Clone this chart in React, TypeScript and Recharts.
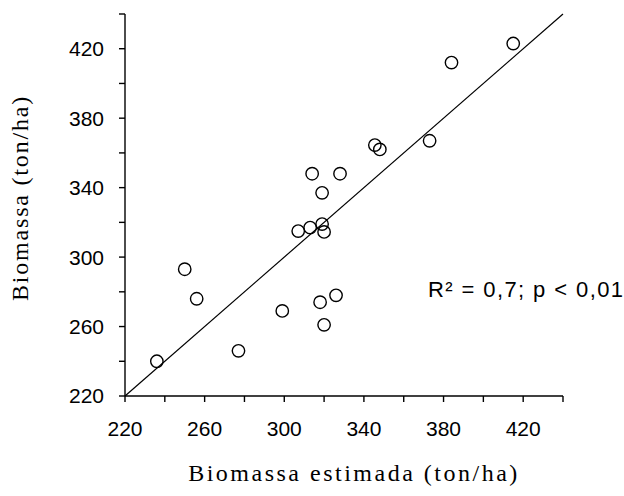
import React from "react";
import {
  ScatterChart,
  Scatter,
  XAxis,
  YAxis,
  ReferenceLine,
} from "recharts";

// Estimated vs. measured biomass (ton/ha)
const estimada = [236, 250, 256, 277, 299, 307, 313, 319, 320, 314, 328, 319, 318, 326, 320, 345.5, 348, 373, 384, 415];
const medida = [240, 293, 276, 246, 269, 315, 317, 319, 314.5, 348, 348, 337, 274, 278, 261, 364.5, 362, 367, 412, 423];

const axisTicks = [220, 240, 260, 280, 300, 320, 340, 360, 380, 400, 420, 440];
const labeledTicks = [220, 260, 300, 340, 380, 420];

const points = estimada.map((x, i) => ({ x, y: medida[i] }));

const fmt = (v: number) => (labeledTicks.includes(v) ? String(v) : "");

const sans = "'Liberation Sans', Arial, sans-serif";
const serif = "'Liberation Serif', 'Times New Roman', serif";

const Ring = (p: any) => (
  <circle cx={p.cx} cy={p.cy} r={6.2} fill="none" stroke="#000" strokeWidth={1.4} />
);

export default function App() {
  return (
    <div style={{ position: "absolute", left: 0, top: 0, background: "#fff" }}>
      <ScatterChart
        width={624}
        height={496}
        margin={{ top: 14, right: 61, bottom: 0, left: 0 }}
      >
        <XAxis
          type="number"
          dataKey="x"
          domain={[220, 440]}
          ticks={axisTicks}
          tickFormatter={fmt}
          interval={0}
          height={100}
          tickSize={6}
          tickMargin={19}
          stroke="#000"
          strokeWidth={1.4}
          tick={{ fill: "#000", fontFamily: sans, fontSize: 21 }}
        />
        <YAxis
          type="number"
          dataKey="y"
          domain={[220, 440]}
          ticks={axisTicks}
          tickFormatter={fmt}
          interval={0}
          width={125}
          tickSize={6}
          tickMargin={15}
          stroke="#000"
          strokeWidth={1.4}
          tick={{ fill: "#000", fontFamily: sans, fontSize: 21 }}
        />
        <ReferenceLine
          segment={[
            { x: 220, y: 220 },
            { x: 440, y: 440 },
          ]}
          stroke="#000"
          strokeWidth={1.2}
          ifOverflow="visible"
        />
        <Scatter data={points} shape={Ring} isAnimationActive={false} />
        <text
          x={354}
          y={481}
          textAnchor="middle"
          fontFamily={serif}
          fontSize={24}
          letterSpacing={2.5}
          fill="#000"
        >
          Biomassa estimada (ton/ha)
        </text>
        <text
          x={28}
          y={198}
          textAnchor="middle"
          fontFamily={serif}
          fontSize={24}
          letterSpacing={1.8}
          fill="#000"
          transform="rotate(-90 28 198)"
        >
          Biomassa (ton/ha)
        </text>
        <text x={428} y={297} fontFamily={sans} fontSize={22} letterSpacing={1.4} fill="#000">
          R² = 0,7; p &lt; 0,01
        </text>
      </ScatterChart>
    </div>
  );
}
